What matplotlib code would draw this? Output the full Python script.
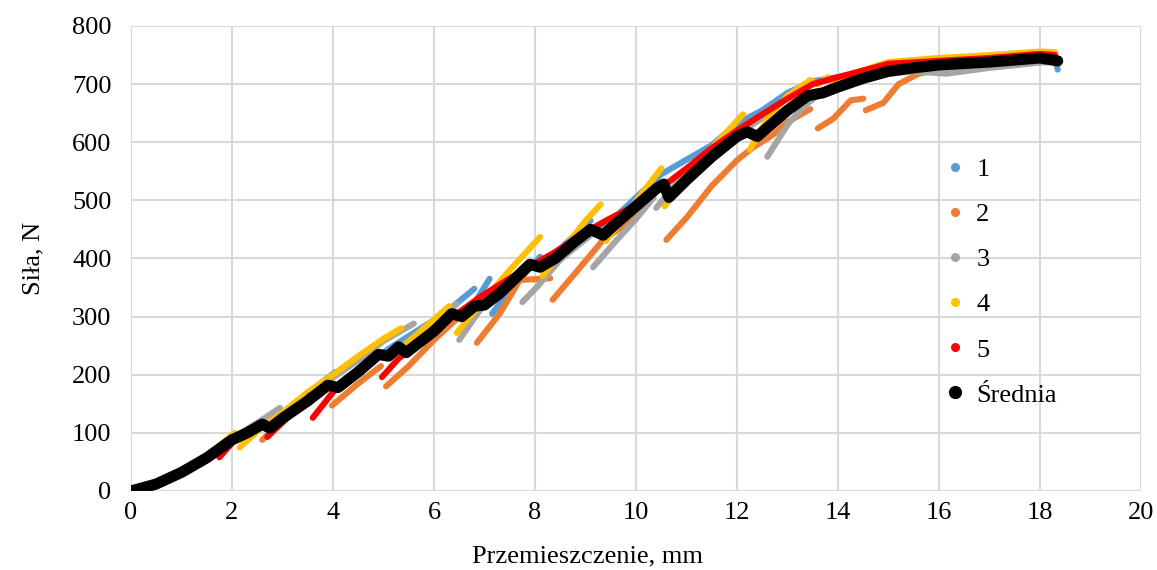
import numpy as np
import matplotlib
matplotlib.use("Agg")
import matplotlib.pyplot as plt
from matplotlib.lines import Line2D

nan = np.nan

# próbka 1
s1_x = [0, 0.5, 1, 1.5, 2, 2.6, nan, 2.65, 3.0, 3.5, 4.05, nan, 4.1, 4.6, 5.2, 5.6, 6.2, 6.8, nan,
        6.85, 7.1, nan, 7.15, 7.5, 8.1, nan, 8.15, 8.6, 9.1, nan, 9.15, 9.6, 10.0, 10.5, 11.0, 11.5,
        12.0, 12.5, 13.0, 13.5, 14.0, 14.5, 15.0, 16.0, 17.0, 18.0, 18.3, 18.35]
s1_y = [0, 12, 33, 60, 90, 122, nan, 110, 135, 168, 205, nan, 180, 215, 250, 272, 305, 348, nan,
        330, 365, nan, 305, 345, 403, nan, 385, 425, 465, nan, 445, 472, 505, 545, 570, 595,
        632, 655, 685, 705, 712, 720, 730, 735, 740, 748, 745, 725]

# próbka 2
s2_x = [0, 0.5, 1, 1.5, 2, 2.55, nan, 2.6, 3.0, 3.5, 3.95, nan, 3.98, 4.5, 4.95, nan, 5.05, 5.5,
        6.0, 6.5, 6.8, nan, 6.85, 7.3, 7.7, 8.3, nan, 8.35, 8.8, 9.35, 9.65, 10.0, 10.5, nan,
        10.6, 11.0, 11.5, 12.0, 12.3, 12.7, 13.0, 13.45, nan, 13.6, 13.9, 14.25, 14.5, nan,
        14.55, 14.9, 15.2, 15.6, 16.0, 17.0, 18.0, 18.3]
s2_y = [0, 12, 32, 58, 88, 110, nan, 88, 120, 160, 185, nan, 147, 185, 215, nan, 180, 215,
        260, 300, 322, nan, 255, 305, 363, 366, nan, 329, 375, 432, 450, 478, 525, nan,
        432, 470, 525, 569, 590, 612, 635, 657, nan, 624, 640, 672, 675, nan,
        655, 668, 700, 718, 725, 733, 740, 740]

# próbka 3
s3_x = [0, 0.5, 1, 1.5, 2, 2.5, 2.95, nan, 3.0, 3.5, 4.0, 4.5, 5.0, 5.6, nan, 5.65, 6.0, 6.45,
        nan, 6.5, 6.9, 7.3, 7.7, nan, 7.75, 8.05, 8.5, 9.1, nan, 9.15, 9.6, 10.0, 10.35, nan,
        10.4, 10.8, 11.5, 12.0, 12.55, nan, 12.6, 13.0, 13.3, 13.7, 14.0, 14.5, 15.0, 15.5,
        16.15, 17.0, 18.0, 18.3]
s3_y = [0, 12, 32, 58, 90, 117, 143, nan, 122, 160, 195, 225, 258, 288, nan, 255, 285, 322,
        nan, 260, 310, 345, 372, nan, 325, 352, 398, 440, nan, 385, 430, 468, 505, nan,
        487, 530, 580, 612, 645, nan, 575, 630, 660, 688, 700, 710, 718, 722,
        718, 728, 737, 738]

# próbka 4
s4_x = [0, 0.5, 1, 1.5, 2.05, nan, 2.15, 2.6, 3.0, 3.5, 4.0, 4.5, 5.0, 5.35, nan, 5.4, 5.8,
        6.3, nan, 6.45, 7.0, 7.5, 8.1, nan, 8.15, 8.6, 9.0, 9.3, nan, 9.4, 9.8, 10.1, 10.5, nan,
        10.57, 11.0, 11.5, 12.12, nan, 12.25, 12.6, 13.0, 13.45, 13.6, 13.8, 13.9, 14.3, 15.0,
        16.0, 17.0, 18.0, 18.3]
s4_y = [0, 12, 33, 60, 100, nan, 75, 110, 135, 170, 200, 232, 262, 280, nan, 250, 280,
        318, nan, 272, 330, 380, 437, nan, 370, 420, 465, 493, nan, 430, 475, 510, 555, nan,
        490, 540, 590, 648, nan, 587, 640, 680, 707, 700, 712, 698, 718, 738,
        745, 750, 756, 755]

# próbka 5
s5_x = [0, 0.5, 1, 1.5, 1.7, nan, 1.75, 2.1, 2.65, nan, 2.7, 3.0, 3.55, nan, 3.6, 4.0, 4.5,
        4.9, nan, 4.97, 5.3, 5.8, 6.3, 6.9, 7.3, 7.8, 8.36, 8.9, 9.4, 10.0, 10.5, 11.0, 11.5,
        12.0, 12.5, 13.0, 13.5, 14.0, 15.0, 16.0, 17.0, 18.0, 18.3]
s5_y = [0, 12, 32, 57, 70, nan, 58, 92, 112, nan, 93, 118, 165, nan, 126, 170, 205,
        232, nan, 196, 228, 260, 295, 333, 355, 382, 409, 440, 465, 492, 522, 555, 590,
        620, 648, 675, 700, 712, 735, 740, 745, 752, 750]

# średnia
avg_x = [0, 0.5, 1, 1.5, 2, 2.3, 2.6, 2.75, 3.0, 3.5, 3.9, 4.1, 4.5, 4.9, 5.1, 5.3, 5.45, 5.7,
         6.0, 6.35, 6.55, 6.8, 7.0, 7.3, 7.6, 7.9, 8.1, 8.4, 8.8, 9.1, 9.35, 9.6, 10.0, 10.4,
         10.55, 10.65, 11.0, 11.5, 12.0, 12.2, 12.4, 12.6, 13.0, 13.4, 13.7, 14.0, 14.5, 15.0,
         15.5, 16.0, 17.0, 18.0, 18.35]
avg_y = [0, 12, 32, 57, 88, 100, 115, 108, 125, 155, 182, 178, 205, 235, 232, 248, 238, 255,
         275, 305, 300, 318, 320, 340, 365, 390, 385, 400, 430, 450, 440, 460, 490, 520,
         528, 505, 535, 575, 610, 618, 610, 625, 655, 680, 685, 695, 710, 722,
         728, 733, 738, 745, 740]

series = [
    (s1_x, s1_y, "1", "#5B9BD5"),
    (s2_x, s2_y, "2", "#ED7D31"),
    (s3_x, s3_y, "3", "#A5A5A5"),
    (s4_x, s4_y, "4", "#FFC000"),
    (s5_x, s5_y, "5", "#FF0000"),
]

plt.rcParams['font.family'] = ['Liberation Serif', 'DejaVu Serif']
FS = 19

fig = plt.figure(figsize=(11.57, 5.70), dpi=100)
ax = fig.add_axes([0.1132, 0.1386, 0.873, 0.8158])

handles = []
for x, y, lab, col in series:
    ax.plot(x, y, color=col, lw=4.4, solid_capstyle='round', solid_joinstyle='round', zorder=3)
    handles.append(Line2D([], [], ls='none', marker='o', ms=5.5, color=col, label=lab))
ax.plot(avg_x, avg_y, color='black', lw=8, solid_capstyle='round', solid_joinstyle='round', zorder=4)
handles.append(Line2D([], [], ls='none', marker='o', ms=8.5, color='black', label='Średnia'))

ax.set_xlim(0, 20)
ax.set_ylim(0, 800)
ax.set_xticks(np.arange(0, 21, 2))
ax.set_yticks(np.arange(0, 801, 100))
ax.grid(True, color='#d9d9d9', lw=1.5)
ax.set_axisbelow(True)
for sp in ax.spines.values():
    sp.set_visible(False)
ax.tick_params(axis='x', length=0, labelsize=FS, pad=8)
ax.tick_params(axis='y', length=0, labelsize=FS, pad=14)
ax.set_xlabel('Przemieszczenie, mm', fontsize=FS)
ax.xaxis.set_label_coords(0.4515, -0.117)
ax.set_ylabel('Siła, N', fontsize=FS)
ax.yaxis.set_label_coords(-0.086, 0.5)

ax.legend(handles=handles, loc='upper left', bbox_to_anchor=(0.803, 0.717), frameon=False,
          fontsize=FS, labelspacing=0.82, handletextpad=0.3, handlelength=1.0,
          borderpad=0, borderaxespad=0)

fig.savefig('out.png', dpi=100)
